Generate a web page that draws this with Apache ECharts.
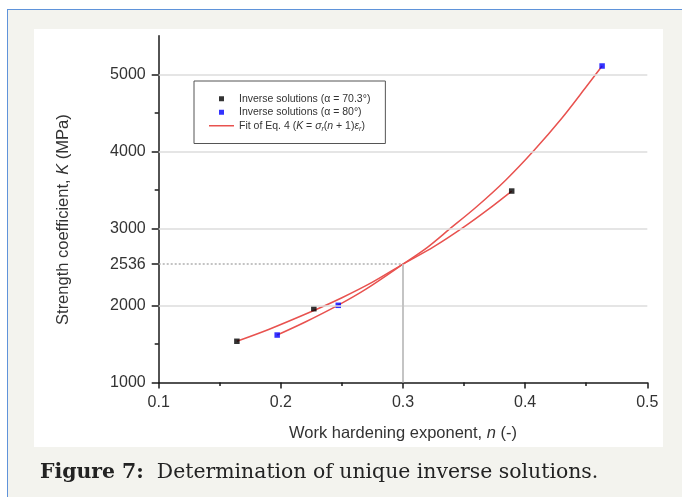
<!DOCTYPE html>
<html>
<head>
<meta charset="utf-8">
<script src="https://cdn.jsdelivr.net/npm/echarts@6/dist/echarts.min.js"></script>
<style>
  html, body { margin: 0; padding: 0; width: 682px; height: 497px; background: #ffffff; overflow: hidden; }
  #frame { position: absolute; left: 7px; top: 9px; right: 0; bottom: 0; background: #f3f3ee;
           border-left: 1px solid #5f93da; border-top: 1px solid #5f93da; }
  #panel { position: absolute; left: 34px; top: 29px; width: 629px; height: 418px; background: #ffffff; }
  #chart { position: absolute; left: 0; top: 0; width: 682px; height: 497px; }
  #caption { position: absolute; left: 40px; top: 458px; font-family: "DejaVu Serif", serif; font-size: 20.4px;
             color: #222; white-space: nowrap; line-height: 26px; }
  #caption b { font-weight: bold; }
</style>
</head>
<body>
<div id="frame"></div>
<div id="panel"></div>
<div id="chart"></div>
<div id="caption"><b>Figure 7:</b>&nbsp; Determination of unique inverse solutions.</div>
<script>
// ---- data ----
const n703 = [0.164, 0.227, 0.389];
const k703 = [1535, 1958, 3485];
const n80 = [0.197, 0.247, 0.463];
const k80 = [1616, 2002, 5108];
const fit703N = [0.164, 0.190, 0.227, 0.250, 0.275, 0.300, 0.325, 0.350, 0.370, 0.389];
const fit703K = [1535, 1688, 1934, 2100, 2302, 2536, 2760, 3020, 3250, 3485];
const fit80N = [0.197, 0.220, 0.247, 0.270, 0.300, 0.320, 0.338, 0.360, 0.384, 0.407, 0.430, 0.450, 0.463];
const fit80K = [1616, 1785, 2004, 2215, 2536, 2755, 2990, 3278, 3626, 4008, 4430, 4838, 5108];
const refN = 0.3;
const refK = 2536;
const gridK = [2000, 3000, 4000, 5000];
const yLabelValues = [1000, 2000, 2536, 3000, 4000, 5000];
const yMajorTicks = [1000, 2000, 2536, 3000, 4000, 5000];
const yMinorTicks = [1500, 3500, 4500];
const xMin = 0.1, xMax = 0.5, xStep = 0.1;
const yMin = 1000, yMax = 5500;

const name703 = 'Inverse solutions (\u03b1 = 70.3\u00b0)';
const name80 = 'Inverse solutions (\u03b1 = 80\u00b0)';
const nameFit = 'Fit of Eq. 4';

function pairs(xs, ys) { return xs.map((x, i) => [x, ys[i]]); }

const chart = echarts.init(document.getElementById('chart'), null, { renderer: 'canvas' });
const FONT = 'Liberation Sans';
const RED = '#e8524f';
const sq = 'path://M0,0L10,0L10,10L0,10Z';
const bar = 'path://M0,0L50,0L50,3L0,3Z';

const option = {
  animation: false,
  backgroundColor: 'transparent',
  grid: { left: 158.7, right: 34.7, top: 35.8, bottom: 114.5, containLabel: false },
  legend: {
    orient: 'vertical',
    left: 194, top: 81,
    padding: [11, 15, 11, 15],
    borderColor: '#555', borderWidth: 1,
    itemWidth: 25, itemHeight: 5, itemGap: 0,
    selectedMode: false,
    data: [
      { name: name703, icon: sq },
      { name: name80, icon: sq },
      { name: nameFit, icon: bar, itemStyle: { color: RED } }
    ],
    textStyle: {
      fontFamily: FONT, fontSize: 10.5, color: '#333', lineHeight: 13.5,
      rich: {
        t: { fontFamily: FONT, fontSize: 10.5, color: '#333', lineHeight: 13.5 },
        i: { fontFamily: FONT, fontSize: 10.5, color: '#333', fontStyle: 'italic', lineHeight: 13.5 },
        s: { fontFamily: FONT, fontSize: 7, color: '#333', fontStyle: 'italic', verticalAlign: 'bottom', lineHeight: 11 }
      }
    },
    formatter: function (name) {
      if (name === nameFit) {
        return '{t|Fit of Eq. 4 (}{i|K}{t| = }{i|\u03c3}{s|r}{t|(}{i|n}{t| + 1)}{i|\u03b5}{s|r}{t|)}';
      }
      return '{t|' + name + '}';
    }
  },
  xAxis: {
    type: 'value', min: xMin, max: xMax, interval: xStep,
    name: '{a|Work hardening exponent, }{i|n}{a| (-)}',
    nameLocation: 'middle', nameGap: 42,
    nameTextStyle: {
      rich: {
        a: { fontFamily: FONT, fontSize: 16.5, color: '#333' },
        i: { fontFamily: FONT, fontSize: 16.5, color: '#333', fontStyle: 'italic' }
      }
    },
    axisLine: { show: true, onZero: false, lineStyle: { color: '#1a1a1a', width: 1.5 } },
    axisTick: { show: true, inside: false, length: 6, lineStyle: { color: '#1a1a1a', width: 1.5 } },
    minorTick: { show: true, splitNumber: 2, length: 3.5, lineStyle: { color: '#1a1a1a', width: 1.5 } },
    axisLabel: { fontFamily: FONT, fontSize: 16, color: '#333', margin: 12,
                 formatter: v => v.toFixed(1) },
    splitLine: { show: false }
  },
  yAxis: [
    {
      type: 'value', min: yMin, max: yMax, interval: 1000,
      name: '{a|Strength coefficient, }{i|K}{a| (MPa)}',
      nameLocation: 'middle', nameGap: 87, nameRotate: 90,
      nameTextStyle: {
        padding: [0, 21, 0, 0],
        rich: {
          a: { fontFamily: FONT, fontSize: 16.5, color: '#333' },
          i: { fontFamily: FONT, fontSize: 16.5, color: '#333', fontStyle: 'italic' }
        }
      },
      axisLine: { show: true, onZero: false, lineStyle: { color: '#1a1a1a', width: 1.5 } },
      axisTick: { show: true, length: 7, customValues: yMajorTicks, lineStyle: { color: '#1a1a1a', width: 1.5 } },
      axisLabel: { fontFamily: FONT, fontSize: 16, color: '#333', margin: 13, customValues: yLabelValues,
                   formatter: v => String(Math.round(v)) },
      splitLine: { show: false }
    },
    {
      type: 'value', min: yMin, max: yMax, interval: 500, position: 'left',
      axisLine: { show: false },
      axisTick: { show: true, length: 4, customValues: yMinorTicks, lineStyle: { color: '#1a1a1a', width: 1.5 } },
      axisLabel: { show: false },
      splitLine: { show: false }
    }
  ],
  series: [
    {
      name: 'ref', type: 'line', data: [], silent: true, z: 1,
      markLine: {
        silent: true, symbol: 'none', animation: false, label: { show: false },
        data: gridK.map(k => [
          { coord: [xMin, k], lineStyle: { color: '#dcdcdc', width: 1.5, type: 'solid' } },
          { coord: [xMax, k] }
        ]).concat([
          [ { coord: [xMin, refK], lineStyle: { color: '#b0b0b0', width: 1.5, type: [2, 2] } }, { coord: [refN, refK] } ],
          [ { coord: [refN, yMin], lineStyle: { color: '#c4c4c4', width: 2, type: 'solid' } }, { coord: [refN, refK] } ]
        ])
      }
    },
    {
      name: nameFit, type: 'line', data: pairs(fit703N, fit703K), smooth: 0.3,
      symbol: 'none', z: 2, lineStyle: { color: RED, width: 1.5 }, itemStyle: { color: RED }
    },
    {
      name: nameFit, type: 'line', data: pairs(fit80N, fit80K), smooth: 0.3,
      symbol: 'none', z: 2, lineStyle: { color: RED, width: 1.5 }, itemStyle: { color: RED }
    },
    {
      name: name703, type: 'scatter', data: pairs(n703, k703), symbol: 'rect', symbolSize: 5.5, z: 3,
      itemStyle: { color: '#000000' }
    },
    {
      name: name80, type: 'scatter', data: pairs(n80, k80), symbol: 'rect', symbolSize: 5.5, z: 3,
      itemStyle: { color: '#0000ff' }
    }
  ]
};
chart.setOption(option);
</script>
</body>
</html>
